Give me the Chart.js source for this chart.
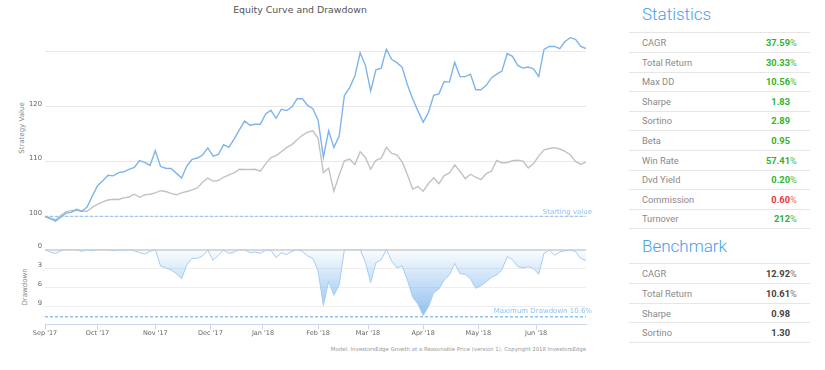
<!DOCTYPE html>
<html>
<head>
<meta charset="utf-8">
<script src="https://cdn.jsdelivr.net/npm/chart.js@4.4.1/dist/chart.umd.min.js"></script>
<style>
  body { margin: 0; background: #fff; width: 825px; height: 370px; position: relative; overflow: hidden; font-family: 'DejaVu Sans', sans-serif; }
  canvas { position: absolute; left: 0; }
  #equity { top: 0; }
  #dd { top: 240px; }
  .title { position: absolute; left: 0; width: 600px; top: 4px; text-align: center; font-size: 9.4px; line-height: 11px; color: #555; }
  .axis-title { position: absolute; width: 100px; height: 10px; line-height: 10px; text-align: center; font-size: 7px; color: #888; transform: rotate(-90deg); white-space: nowrap; }
  .credits { position: absolute; right: 239px; top: 346px; font-size: 5.4px; line-height: 6px; color: #999; white-space: nowrap; }
  .panel { font-family: Roboto, sans-serif; }
  .heading { position: absolute; left: 642px; font-size: 17px; line-height: 17px; font-weight: 300; color: #45a0f2; }
  .row { position: absolute; left: 629px; width: 181px; border-top: 1px solid #e6e6e6; box-sizing: border-box; display: flex; align-items: center; justify-content: space-between; font-size: 9.3px; }
  .row .lbl { padding-left: 13px; color: #8a8a8a; }
  .row .val { padding-right: 13px; font-weight: 700; }
  .row .unit { display: inline-block; width: 7px; font-weight: 400; }
  .last { position: absolute; left: 629px; width: 181px; border-top: 1px solid #e6e6e6; }
</style>
</head>
<body>
<div class="title">Equity Curve and Drawdown</div>
<div class="axis-title" style="left:-28.5px; top:123px;">Strategy Value</div>
<div class="axis-title" style="left:-25px; top:282px;">Drawdown</div>
<canvas id="equity" width="600" height="240"></canvas>
<canvas id="dd" width="600" height="100"></canvas>
<div class="credits">Model: InvestorsEdge Growth at a Reasonable Price (version 1). Copyright 2018 InvestorsEdge</div>
<div class="panel" id="panel"></div>

<script>
// one sample every 2 trading days, Sep 1 2017 .. end of Jun 2018
const dayStep = 2;
const lastDay = 206;

const strategy = [100.0, 99.6, 99.15, 99.85, 100.6, 100.75, 101.3, 100.95, 101.7, 103.7,
  105.6, 106.5, 107.5, 107.4, 108.0, 108.15, 108.6, 108.95, 110.2, 109.85,
  109.3, 112.0, 109.1, 108.8, 108.75, 107.9, 107.0, 109.2, 110.4, 110.65,
  111.2, 112.5, 111.0, 111.3, 113.1, 112.6, 114.1, 115.8, 117.4, 116.65,
  116.8, 116.8, 118.7, 119.35, 117.9, 119.55, 119.3, 119.95, 121.45, 121.45,
  120.25, 119.65, 117.55, 110.8, 115.6, 112.6, 114.6, 122.05, 123.5, 125.6,
  129.85, 127.55, 122.9, 126.75, 127.05, 130.5, 128.65, 128.05, 127.2, 124.0,
  121.45, 119.25, 117.2, 118.95, 122.1, 122.35, 124.6, 124.5, 128.1, 125.5,
  125.5, 125.95, 123.1, 123.1, 123.9, 125.25, 125.95, 126.5, 129.7, 129.2,
  127.55, 127.05, 127.25, 126.9, 125.5, 130.45, 131.0, 131.0, 130.6, 131.9,
  132.6, 132.3, 131.0, 130.6];

const benchmark = [100.0, 99.75, 99.4, 100.2, 100.85, 101.1, 101.1, 100.95, 100.95, 101.65,
  102.25, 102.65, 103.0, 103.15, 103.1, 103.4, 103.55, 104.05, 103.5, 103.95,
  104.05, 104.3, 104.7, 104.55, 104.2, 103.95, 104.3, 104.55, 104.85, 105.2,
  106.25, 107.0, 106.45, 106.55, 107.15, 107.6, 107.95, 108.6, 108.55, 108.55,
  108.6, 108.25, 109.6, 110.75, 111.1, 111.8, 112.55, 113.1, 114.0, 114.8,
  115.35, 115.6, 114.25, 108.0, 108.8, 104.6, 107.5, 110.15, 110.45, 109.45,
  111.8, 110.75, 108.6, 110.25, 110.6, 112.6, 111.5, 111.25, 109.95, 107.6,
  105.0, 105.45, 104.6, 106.0, 107.05, 106.0, 107.45, 107.95, 109.4, 108.25,
  106.9, 107.7, 107.15, 106.7, 107.8, 108.25, 110.2, 109.75, 109.85, 110.15,
  110.25, 110.1, 108.85, 109.6, 111.05, 112.15, 112.4, 112.55, 112.3, 111.85,
  111.25, 110.05, 109.5, 109.95];

const drawdown = [0, 0.4, 0.6, 0.2, 0, 0, 0, 0.3, 0, 0.2,
  0, 0, 0, 0.2, 0, 0.1, 0, 0.2, 0.5, 0.7,
  0.3, 0, 2.6, 2.9, 3.2, 3.8, 4.6, 2.4, 1.4, 1.4,
  1.0, 0.1, 1.7, 0.9, 0.1, 0.6, 0.4, 0, 0, 0.5,
  0.4, 0.6, 0.1, 0.1, 1.3, 0.5, 0.8, 0.3, 0, 0.3,
  1.0, 1.4, 3.4, 8.8, 5.0, 7.2, 5.6, 0, 0, 0,
  0, 2.0, 5.2, 2.1, 1.6, 0, 1.8, 2.9, 2.6, 4.8,
  7.5, 8.6, 10.4, 9.0, 6.8, 6.2, 4.8, 4.0, 2.2, 3.8,
  3.9, 4.6, 6.1, 5.7, 5.1, 4.4, 4.0, 3.2, 1.1, 1.6,
  2.7, 2.9, 2.7, 3.0, 3.9, 0.6, 0.1, 0.9, 0.4, 0.2,
  0.1, 0.3, 1.4, 1.75];

const startValue = 100;
const maxDrawdown = 10.6;

const monthTicks = [0, 20, 42, 63, 83, 104, 123, 144, 165, 187];
const monthLabels = ["Sep '17", "Oct '17", "Nov '17", "Dec '17", "Jan '18", "Feb '18", "Mar '18", "Apr '18", "May '18", "Jun '18"];
const valueTicks = [100, 110, 120, 130];
const ddTicks = [0, 3, 6, 9];

const statLabels = ['CAGR', 'Total Return', 'Max DD', 'Sharpe', 'Sortino', 'Beta', 'Win Rate', 'Dvd Yield', 'Commission', 'Turnover'];
const statValues = ['37.59', '30.33', '10.56', '1.83', '2.89', '0.95', '57.41', '0.20', '0.60', '212'];
const statUnits = ['%', '%', '%', '', '', '', '%', '%', '%', '%'];
const benchLabels = ['CAGR', 'Total Return', 'Sharpe', 'Sortino'];
const benchValues = ['12.92', '10.61', '0.98', '1.30'];
const benchUnits = ['%', '%', '', ''];

Chart.defaults.font.family = "'DejaVu Sans', sans-serif";
Chart.defaults.color = '#666';

const toPoints = arr => arr.map((v, i) => ({ x: i * dayStep, y: v }));

// text label sitting on a dashed reference line
const lineLabel = {
  id: 'lineLabel',
  afterDatasetsDraw(chart, args, opts) {
    const ctx = chart.ctx;
    const y = chart.scales.y.getPixelForValue(opts.value);
    ctx.save();
    ctx.font = '7px "DejaVu Sans"';
    ctx.fillStyle = '#8fc2f0';
    ctx.textAlign = 'right';
    ctx.textBaseline = 'middle';
    ctx.fillText(opts.text, 592, y + opts.dy);
    ctx.restore();
  }
};

const fixWidth = scale => { scale.width = 45; };

new Chart(document.getElementById('equity'), {
  type: 'line',
  data: {
    datasets: [
      { data: toPoints(strategy), borderColor: '#7cb5ec', borderWidth: 1.4, pointRadius: 0, fill: false },
      { data: toPoints(benchmark), borderColor: '#c2c2c2', borderWidth: 1.4, pointRadius: 0, fill: false },
      { data: [{ x: 0, y: startValue }, { x: lastDay, y: startValue }], borderColor: '#9dc8f1', borderWidth: 1.3, borderDash: [3, 2], pointRadius: 0 }
    ]
  },
  options: {
    responsive: false,
    animation: false,
    layout: { padding: { top: 19, right: 14, bottom: 4, left: 0 } },
    plugins: {
      legend: { display: false },
      tooltip: { enabled: false },
      lineLabel: { value: startValue, text: 'Starting value', dy: -4 }
    },
    scales: {
      x: { type: 'linear', min: 0, max: lastDay, display: false },
      y: {
        min: 97, max: 136,
        afterFit: fixWidth,
        afterBuildTicks: s => { s.ticks = valueTicks.map(v => ({ value: v })); },
        grid: { color: '#e9e9e9', drawTicks: false },
        border: { display: false },
        ticks: { font: { size: 6.8 }, padding: 3, labelOffset: -3, callback: v => v === 130 ? '' : v }
      }
    }
  },
  plugins: [lineLabel]
});

new Chart(document.getElementById('dd'), {
  type: 'line',
  data: {
    datasets: [
      {
        data: toPoints(drawdown), borderColor: '#a6cdf2', borderWidth: 1, pointRadius: 0, fill: 'origin',
        backgroundColor: c => {
          const a = c.chart.chartArea;
          if (!a) return 'rgba(124,181,236,0.3)';
          const g = c.chart.ctx.createLinearGradient(0, a.top, 0, a.bottom);
          g.addColorStop(0, 'rgba(124,181,236,0.03)');
          g.addColorStop(1, 'rgba(124,181,236,0.95)');
          return g;
        }
      },
      { data: [{ x: 0, y: maxDrawdown }, { x: lastDay, y: maxDrawdown }], borderColor: '#8fc2f0', borderWidth: 1.5, borderDash: [3, 2], pointRadius: 0, fill: false }
    ]
  },
  options: {
    responsive: false,
    animation: false,
    layout: { padding: { top: 9.5, right: 14, bottom: 0, left: 0 } },
    plugins: {
      legend: { display: false },
      tooltip: { enabled: false },
      lineLabel: { value: maxDrawdown, text: 'Maximum Drawdown 10.6%', dy: -5.5 }
    },
    scales: {
      x: {
        type: 'linear', min: 0, max: lastDay,
        afterFit: s => { s.height = 15.5; },
        afterBuildTicks: s => { s.ticks = monthTicks.map(v => ({ value: v })); },
        grid: { drawOnChartArea: false, tickLength: 5, color: '#ccd6eb' },
        border: { color: '#ccd6eb' },
        ticks: { font: { size: 6.5 }, padding: 0, autoSkip: false, maxRotation: 0, callback: (v, i) => monthLabels[i] }
      },
      y: {
        reverse: true, min: 0, max: 11.8,
        afterFit: fixWidth,
        afterBuildTicks: s => { s.ticks = ddTicks.map(v => ({ value: v })); },
        grid: {
          drawTicks: false,
          color: c => c.tick && c.tick.value === 0 ? '#d9d9d9' : '#eeeeee',
          lineWidth: c => c.tick && c.tick.value === 0 ? 2 : 1
        },
        border: { display: false },
        ticks: { font: { size: 6.8 }, padding: 3, labelOffset: -3 }
      }
    }
  },
  plugins: [lineLabel]
});

// statistics panel
const panel = document.getElementById('panel');
function addHeading(text, top) {
  const h = document.createElement('div');
  h.className = 'heading';
  h.style.top = top + 'px';
  h.textContent = text;
  panel.appendChild(h);
}
function addRows(labels, values, units, top, h, colorFor, unitColorFor) {
  labels.forEach((l, i) => {
    const r = document.createElement('div');
    r.className = 'row';
    r.style.top = (top + i * h) + 'px';
    r.style.height = h + 'px';
    r.innerHTML = '<span class="lbl">' + l + '</span><span class="val" style="color:' + colorFor(i) + '">' +
      values[i] + '<span class="unit" style="color:' + unitColorFor(i) + '">' + units[i] + '</span></span>';
    panel.appendChild(r);
  });
  const end = document.createElement('div');
  end.className = 'last';
  end.style.top = (top + labels.length * h) + 'px';
  panel.appendChild(end);
}

addHeading('Statistics', 6.4);
addRows(statLabels, statValues, statUnits, 32.3, 19.6,
  i => statLabels[i] === 'Commission' ? '#e8393d' : '#2db52d',
  i => statLabels[i] === 'Commission' ? '#ee6b6e' : '#4cc04c');
addHeading('Benchmark', 238.2);
addRows(benchLabels, benchValues, benchUnits, 263.3, 19.7, () => '#444', () => '#777');
</script>
</body>
</html>
